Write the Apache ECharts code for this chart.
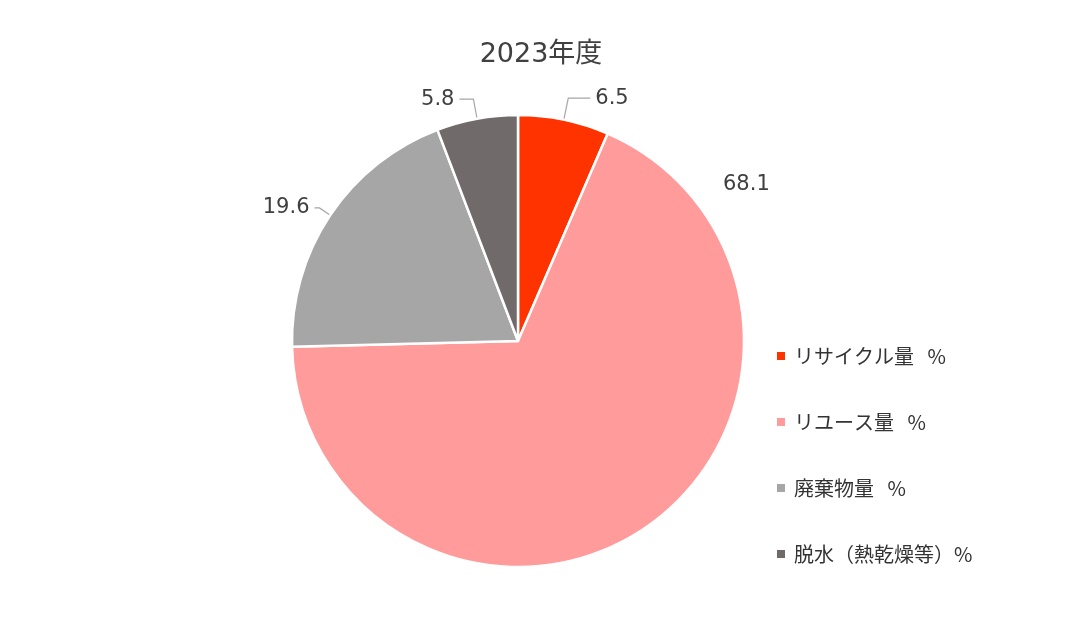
<!DOCTYPE html>
<html><head><meta charset="utf-8">
<script src="https://cdn.jsdelivr.net/npm/echarts@6/dist/echarts.min.js"></script>
<style>html,body{margin:0;padding:0;background:#fff}#c{width:1080px;height:628px}</style>
</head><body><div id="c"></div>
<script>
const title = '2023年度';
const categories = ['リサイクル量   %', 'リユース量   %', '廃棄物量   %', '脱水（熱乾燥等）%'];
const values = [6.5, 68.1, 19.6, 5.8];
const colors = ['#FF3300', '#FF9B9B', '#A6A6A6', '#716A6A'];

const chart = echarts.init(document.getElementById('c'));
const font = '"Noto Sans CJK JP", "Noto Sans", sans-serif';
const numFont = '"DejaVu Sans", "Noto Sans CJK JP", sans-serif';
const lineLens = [[22, 22], null, [13, 5], [20, 14]];
chart.setOption({
  animation: false,
  title: { text: title, left: 536, top: 36, textAlign: 'center',
    textStyle: { fontFamily: numFont, fontSize: 27, fontWeight: 'normal', color: '#404040' } },
  legend: {
    orient: 'vertical', left: 770, top: 341, itemWidth: 10, itemHeight: 10, itemGap: 46,
    icon: 'rect',
    textStyle: { fontFamily: font, fontSize: 20, color: '#333333', padding: [0, 0, 0, 3] },
    data: categories
  },
  series: [{
    type: 'pie', center: [518, 341], radius: 226, startAngle: 90, clockwise: true,
    itemStyle: { borderColor: '#fff', borderWidth: 2.5 },
    label: { show: true, position: 'outside', formatter: p => p.value.toFixed(1),
      fontFamily: numFont, fontSize: 21, color: '#404040' },
    labelLine: { show: true, length: 15, length2: 9, lineStyle: { color: '#A6A6A6', width: 1.2 } },
    labelLayout: function (p) {
      if (p.dataIndex === 1) return { x: 723, y: 185, align: 'left', verticalAlign: 'middle' };
      return {};
    },
    data: categories.map((c, i) => ({
      name: c, value: values[i], itemStyle: { color: colors[i] },
      labelLine: i === 1 ? { show: false } : { length: lineLens[i][0], length2: lineLens[i][1] }
    }))
  }]
});
</script></body></html>
